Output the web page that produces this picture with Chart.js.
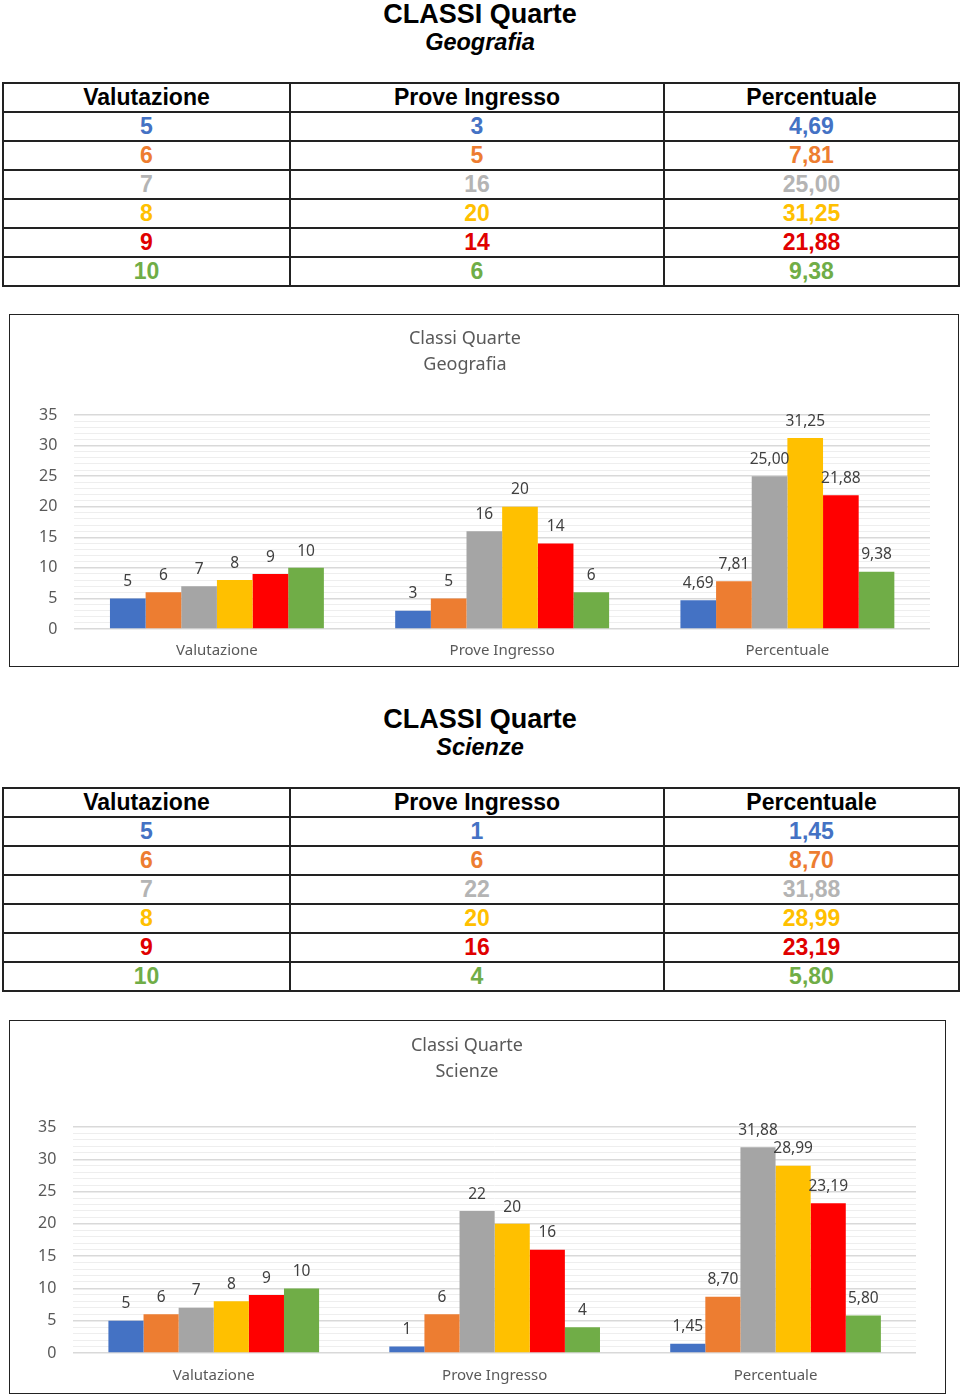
<!DOCTYPE html>
<html>
<head>
<meta charset="utf-8">
<script src="https://cdn.jsdelivr.net/npm/chart.js@4"></script>
<style>
  body { margin: 0; background: #fff; width: 960px; height: 1395px; position: relative; overflow: hidden; font-family: "Liberation Sans", Arial, sans-serif; }
  .title { position: absolute; left: 0; width: 960px; text-align: center; color: #000; }
  .title .t1 { font-size: 27px; font-weight: bold; line-height: 28px; }
  .title .t2 { font-size: 23.5px; font-weight: bold; font-style: italic; line-height: 28px; }
  table { position: absolute; left: 2px; width: 956px; border-collapse: collapse; table-layout: fixed; }
  td, th { border: 2px solid #222; height: 27px; padding: 0; text-align: center; font-size: 23px; font-weight: bold; line-height: 27px; }
  th { color: #000; }
  .box { position: absolute; border: 1.5px solid #222; box-sizing: border-box; background: #fff; }
  .box canvas { position: absolute; left: 0; top: 0; }
  .ctitle { position: absolute; width: 300px; text-align: center; color: #595959; font-family: "Noto Sans", sans-serif; font-size: 18px; line-height: 26px; }
</style>
</head>
<body>
<div class="title" style="top:0px"><div class="t1">CLASSI Quarte</div><div class="t2">Geografia</div></div>
<table id="tab1" style="top:82px"></table>
<div class="box" style="left:9px; top:314px; width:950px; height:353px">
  <canvas id="chart1"></canvas>
  <div class="ctitle" id="title1" style="left:305px; top:9px"></div>
</div>

<div class="title" style="top:705px"><div class="t1">CLASSI Quarte</div><div class="t2">Scienze</div></div>
<table id="tab2" style="top:787px"></table>
<div class="box" style="left:9px; top:1020px; width:937px; height:374px">
  <canvas id="chart2"></canvas>
  <div class="ctitle" id="title2" style="left:307px; top:10px"></div>
</div>

<script>
// Data
const categories = ["Valutazione", "Prove Ingresso", "Percentuale"];
const grades = [5, 6, 7, 8, 9, 10];
const geoProve = [3, 5, 16, 20, 14, 6];
const geoPerc = [4.69, 7.81, 25.00, 31.25, 21.88, 9.38];
const sciProve = [1, 6, 22, 20, 16, 4];
const sciPerc = [1.45, 8.70, 31.88, 28.99, 23.19, 5.80];
const barColors = ["#4472C4", "#ED7D31", "#A5A5A5", "#FFC000", "#FF0000", "#70AD47"];
const textColors = ["#4472C4", "#ED7D31", "#B4B4B4", "#FFC000", "#E00000", "#70AD47"];

// Function
const fmt = (v, col) => col === 2 ? v.toFixed(2).replace(".", ",") : String(v);

const buildTable = (id, prove, perc) => {
    let t = document.getElementById(id);
    let html = '<colgroup><col style="width:287px"><col style="width:374px"><col style="width:295px"></colgroup>';
    html += "<tr>" + categories.map(c => `<th>${c}</th>`).join("") + "</tr>";
    grades.forEach((g, i) => {
        let c = textColors[i];
        html += `<tr><td style="color:${c}">${g}</td><td style="color:${c}">${prove[i]}</td><td style="color:${c}">${fmt(perc[i], 2)}</td></tr>`;
    });
    t.innerHTML = html;
}

const barLabels = {
    id: "barLabels",
    afterDatasetsDraw(chart) {
        let ctx = chart.ctx;
        ctx.save();
        ctx.font = '15.5px "Noto Sans"';
        ctx.fillStyle = "#404040";
        ctx.textAlign = "center";
        ctx.textBaseline = "bottom";
        chart.data.datasets.forEach((ds, i) => {
            chart.getDatasetMeta(i).data.forEach((bar, j) => {
                ctx.fillText(fmt(ds.data[j], j), bar.x, bar.y - 9);
            });
        });
        ctx.restore();
    }
}

const buildChart = (id, titleId, subject, prove, perc, w, h, pad, xPad) => {
    document.getElementById(titleId).innerHTML = `Classi Quarte<br>${subject}`;
    let canvas = document.getElementById(id);
    canvas.width = w;
    canvas.height = h;
    canvas.style.width = w + "px";
    canvas.style.height = h + "px";
    new Chart(canvas, {
        type: "bar",
        data: {
            labels: categories,
            datasets: grades.map((g, i) => ({
                label: String(g),
                data: [g, prove[i], perc[i]],
                backgroundColor: barColors[i],
                categoryPercentage: 0.75,
                barPercentage: 1
            }))
        },
        options: {
            responsive: false,
            animation: false,
            layout: { padding: pad },
            plugins: {
                legend: { display: false },
                tooltip: { enabled: false },
                title: { display: false }
            },
            scales: {
                x: {
                    grid: { display: false },
                    border: { display: false },
                    ticks: { color: "#595959", font: { family: "Noto Sans", size: 15 }, padding: xPad }
                },
                y: {
                    min: 0,
                    max: 35,
                    border: { display: false },
                    grid: {
                        drawTicks: false,
                        color: (c) => c.tick && c.tick.value % 5 === 0 ? "#D9D9D9" : "#EEEEEE",
                        lineWidth: (c) => c.tick && c.tick.value % 5 === 0 ? 1.5 : 1
                    },
                    ticks: {
                        stepSize: 1,
                        autoSkip: false,
                        padding: 17,
                        color: "#595959",
                        font: { family: "Noto Sans", size: 16 },
                        callback: (v) => v % 5 === 0 ? v : ""
                    }
                }
            }
        },
        plugins: [barLabels]
    });
}

// Init
buildTable("tab1", geoProve, geoPerc);
buildTable("tab2", sciProve, sciPerc);
buildChart("chart1", "title1", "Geografia", geoProve, geoPerc, 947, 350, { left: 12, right: 27, top: 100, bottom: 0 }, 5);
buildChart("chart2", "title2", "Scienze", sciProve, sciPerc, 934, 371, { left: 11, right: 28, top: 106, bottom: 1 }, 6);
</script>
</body>
</html>
